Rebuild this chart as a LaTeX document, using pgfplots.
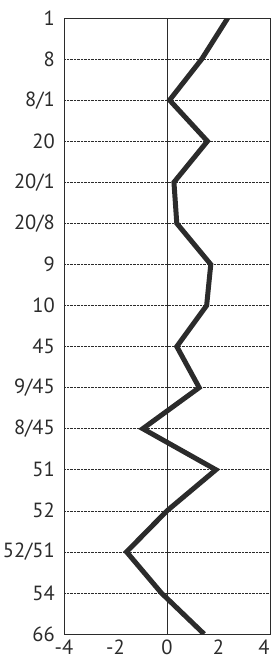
\documentclass[border=0pt]{standalone}
\usepackage{pgfplots}
\pgfplotsset{compat=1.18}
\usepackage{fontspec}
\setmainfont{PT Sans}
\definecolor{ink}{HTML}{2B2B2B}
\begin{document}
\begin{tikzpicture}[x=1pt,y=1pt]
\begin{axis}[
  at={(64pt,-634pt)}, anchor=south west,
  width=206pt, height=616pt, scale only axis,
  xmin=-4, xmax=4, ymin=0, ymax=15, y dir=reverse,
  xtick={-4,-2,0,2,4}, xticklabels={-4,-2,0,2,{\hspace{-12pt}4}},
  ytick={0,...,15},
  yticklabels={1,8,8/1,20,20/1,20/8,9,10,45,9/45,8/45,51,52,52/51,54,66},
  major tick length=0pt,
  ymajorgrids, grid style={densely dotted, ink, line width=0.5pt},
  axis line style={ink, line width=0.9pt},
  tick label style={font=\fontsize{20.5}{21}\selectfont, text=ink},
  yticklabel style={xshift=-8pt, inner xsep=1pt},
  xticklabel style={yshift=-2pt},
  clip=true,
]
\draw[ink, line width=0.9pt] (axis cs:0,0) -- (axis cs:0,15);
\addplot[ink, line width=5pt, line join=miter, miter limit=4, mark=none] coordinates {
(2.36,0) (1.35,1) (0.10,2) (1.57,3) (0.27,4) (0.38,5) (1.70,6) (1.54,7)
(0.38,8) (1.25,9) (-0.94,10) (1.90,11) (0.00,12) (-1.57,13) (-0.22,14) (1.44,15)
};
\end{axis}
\pgfresetboundingbox
\path (0,0) rectangle (273pt,-660pt);
\end{tikzpicture}
\end{document}
